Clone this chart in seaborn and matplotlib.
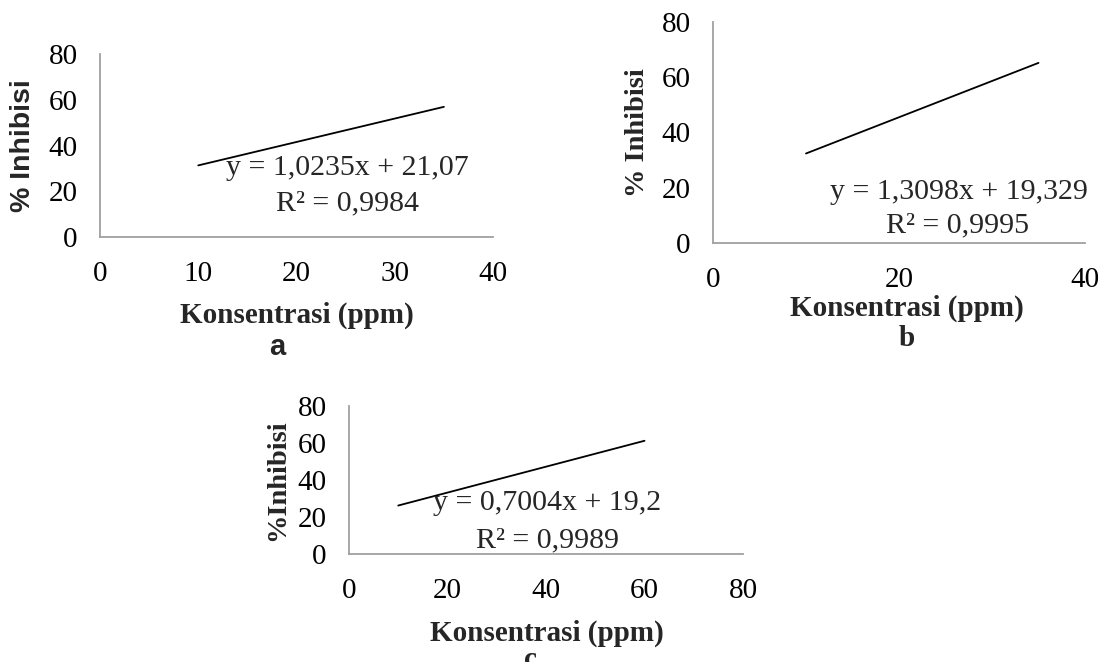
import numpy as np
import pandas as pd
import matplotlib
matplotlib.use("Agg")
import matplotlib.pyplot as plt
import seaborn as sns

# data
panels = ["a", "b", "c"]
line_x = [[10, 35], [10, 35], [10, 60]]
line_y = [[31.3, 56.9], [32.4, 65.2], [26.2, 61.2]]
slopes = [1.0235, 1.3098, 0.7004]
intercepts = [21.07, 19.329, 19.2]
r2_values = [0.9984, 0.9995, 0.9989]
x_max = [40, 40, 80]
x_step = [10, 20, 20]
y_ticks = [0, 20, 40, 60, 80]
y_labels = ["% Inhibisi", "% Inhibisi", "%Inhibisi"]
x_label = "Konsentrasi (ppm)"

sns.set_theme(style="white")
plt.rcParams["font.family"] = ["Liberation Serif", "DejaVu Serif"]

W, H = 1102, 662
fig = plt.figure(figsize=(W / 100, H / 100), dpi=100)


def rect(x0, y0, x1, y1):
    # pixel box -> figure fraction
    return [x0 / W, 1 - y1 / H, (x1 - x0) / W, (y1 - y0) / H]


def px(x, y):
    return x / W, 1 - y / H


# layout in pixels: axes box, eq centre, r2 centre, ylabel x, xlabel y, letter baseline
layout = [
    dict(box=(100, 54, 493, 237), eq=(347, 168), r2=(348, 203), ylab=(23, 146),
         xlab=(297, 315), let=(277, 355), yfont="Liberation Sans", lfont="Liberation Sans"),
    dict(box=(713, 22, 1085, 243), eq=(959, 192), r2=(958, 225), ylab=(637, 133),
         xlab=(907, 308), let=(907, 346), yfont="Liberation Serif", lfont="Liberation Serif"),
    dict(box=(349, 406, 743, 554), eq=(547, 503), r2=(547, 540), ylab=(278, 480),
         xlab=(547, 633), let=(530, 667), yfont="Liberation Serif", lfont="Liberation Serif"),
]

for i, name in enumerate(panels):
    L = layout[i]
    ax = fig.add_axes(rect(*L["box"]))
    df = pd.DataFrame({"x": line_x[i], "y": line_y[i]})
    sns.lineplot(data=df, x="x", y="y", ax=ax, color="black", linewidth=1.3)

    ax.set_xlim(0, x_max[i])
    ax.set_ylim(0, 80)
    ax.set_xticks(np.arange(0, x_max[i] + 1, x_step[i]))
    ax.set_yticks(y_ticks)
    ax.tick_params(length=0, labelsize=21, colors="black")
    ax.tick_params(axis="x", pad=17)
    ax.tick_params(axis="y", pad=16)
    ax.set_xlabel("")
    ax.set_ylabel("")
    for side in ["top", "right"]:
        ax.spines[side].set_visible(False)
    for side in ["left", "bottom"]:
        ax.spines[side].set_color("#a0a0a0")
        ax.spines[side].set_linewidth(1.3)
    ax.patch.set_alpha(0)

    eq = f"y = {slopes[i]}x + {intercepts[i]}".replace(".", ",")
    r2 = f"R² = {r2_values[i]}".replace(".", ",")
    fig.text(*px(*L["eq"]), eq, ha="center", va="center", fontsize=21.5)
    fig.text(*px(*L["r2"]), r2, ha="center", va="center", fontsize=21.5)

    fig.text(*px(*L["ylab"]), y_labels[i], ha="center", va="center", rotation=90,
             fontsize=20.5, fontweight="bold", family=L["yfont"])
    fig.text(*px(*L["xlab"]), x_label, ha="center", va="center",
             fontsize=21, fontweight="bold")
    fig.text(*px(*L["let"]), name, ha="center", va="baseline",
             fontsize=21, fontweight="bold", family=L["lfont"])

fig.savefig("out.png", dpi=100, facecolor="white")
